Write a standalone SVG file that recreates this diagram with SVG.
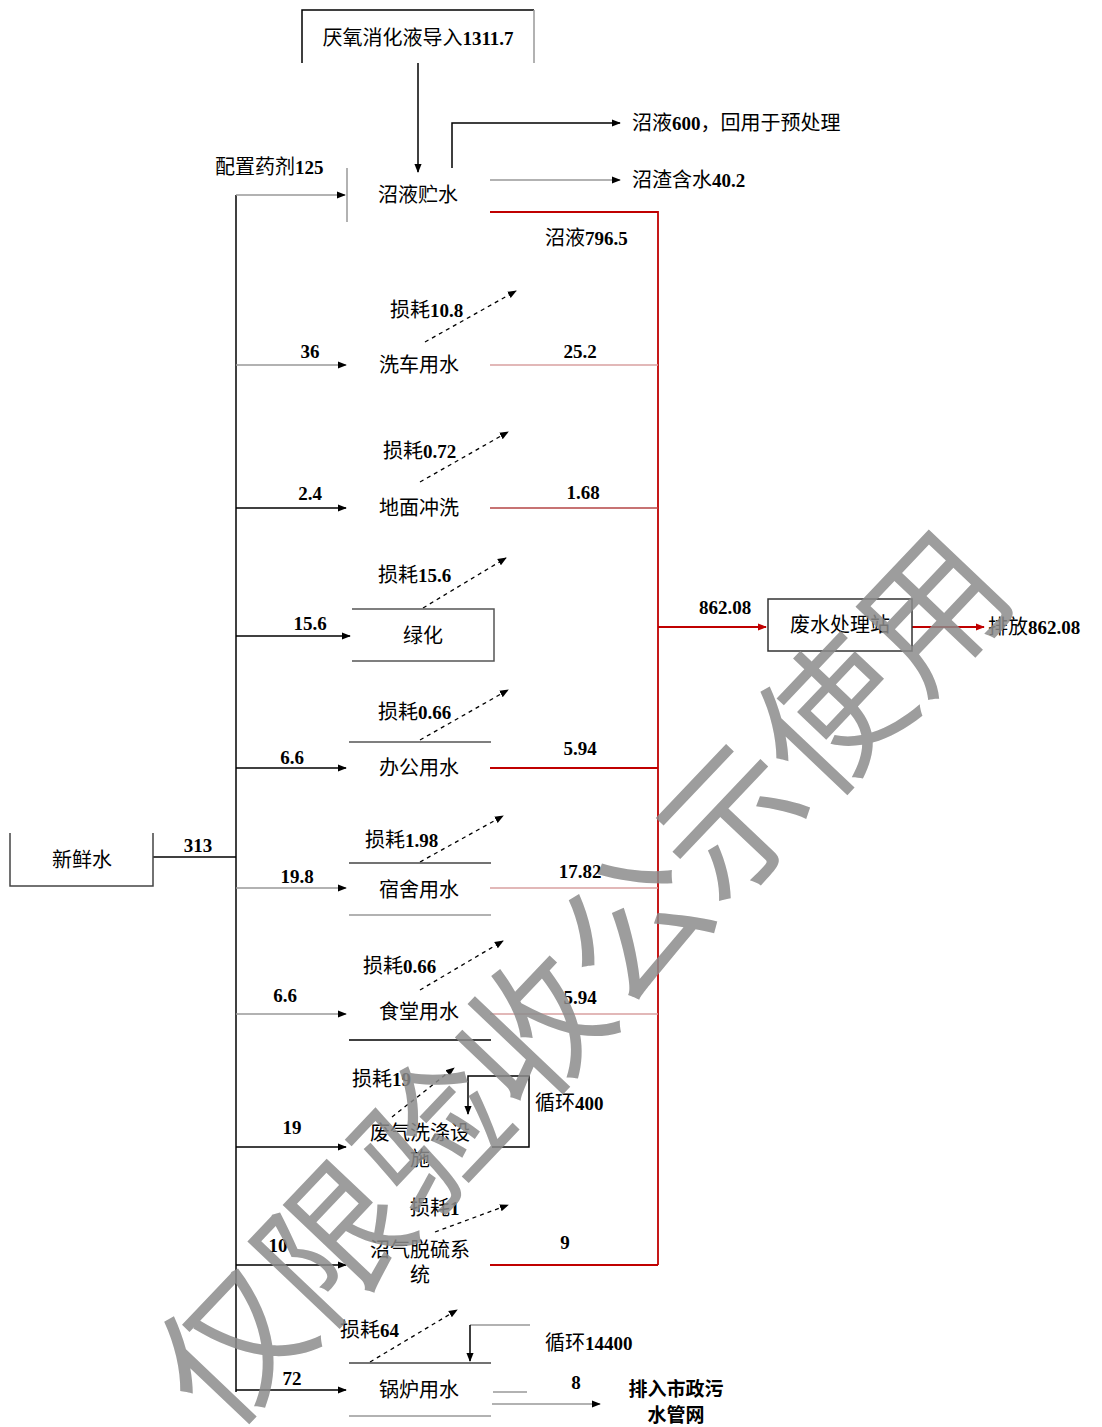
<svg xmlns="http://www.w3.org/2000/svg" width="1102" height="1427" viewBox="0 0 1102 1427">
<defs>
<marker id="ah" viewBox="0 0 10 10" refX="9" refY="5" markerWidth="9" markerHeight="9" markerUnits="userSpaceOnUse" orient="auto"><path d="M0,1 L10,5 L0,9 z" fill="#000"/></marker>
<marker id="ahr" viewBox="0 0 10 10" refX="9" refY="5" markerWidth="9" markerHeight="9" markerUnits="userSpaceOnUse" orient="auto"><path d="M0,1 L10,5 L0,9 z" fill="#c00000"/></marker>
<style>
text{font-family:"Liberation Serif","Noto Sans CJK SC",serif;font-size:20px;fill:#000;dominant-baseline:central}
.n{font-weight:bold;font-size:19px}
.m{text-anchor:middle}
.k{stroke:#000;stroke-width:1.5;fill:none}
.g{stroke:#999;stroke-width:1.5;fill:none}
.r{stroke:#c00000;stroke-width:1.8;fill:none}
.lr{stroke:#d9a0a0;stroke-width:1.5;fill:none}
.mr{stroke:#b54545;stroke-width:1.5;fill:none}
.d{stroke:#000;stroke-width:1.3;stroke-dasharray:4,4;fill:none}
.wm{font-family:"Noto Sans CJK SC",sans-serif;font-size:145px;fill:#8c8c8c;opacity:0.85;text-anchor:middle;dominant-baseline:central}
.bt{font-family:"Noto Sans CJK SC",sans-serif;font-weight:bold;font-size:19px}
</style>
</defs>

<g id="connectors">
<path class="k" d="M236,195 V1392"/>
<path class="k" d="M153,857 H236"/>
<path class="k" d="M418,63 V172" marker-end="url(#ah)"/>
<path class="k" d="M452,168 V123 H620" marker-end="url(#ah)"/>
<path class="g" d="M490,180 H620" marker-end="url(#ah)"/>
<path class="g" d="M236,195 H345" marker-end="url(#ah)"/>
<path class="g" d="M347,168 V222"/>
<path class="r" d="M490,212 H658 V1265"/>
<path class="r" d="M658,627 H766" marker-end="url(#ahr)"/>
<path class="r" d="M912,627 H984" marker-end="url(#ahr)"/>
<path class="g" d="M236,365 H346" marker-end="url(#ah)"/>
<path class="k" d="M236,508 H346" marker-end="url(#ah)"/>
<path class="k" d="M236,636 H350" marker-end="url(#ah)"/>
<path class="k" d="M236,768 H346" marker-end="url(#ah)"/>
<path class="g" d="M236,888 H346" marker-end="url(#ah)"/>
<path class="g" d="M236,1014 H346" marker-end="url(#ah)"/>
<path class="k" d="M236,1147 H346" marker-end="url(#ah)"/>
<path class="k" d="M236,1265 H346" marker-end="url(#ah)"/>
<path class="k" d="M236,1390 H346" marker-end="url(#ah)"/>
<path class="lr" d="M490,365 H658"/>
<path class="mr" d="M490,508 H658"/>
<path class="r" d="M490,768 H658"/>
<path class="lr" d="M490,888 H658"/>
<path class="lr" d="M490,1014 H658"/>
<path class="r" d="M490,1265 H658"/>
<path class="d" d="M425,342 L516,291" marker-end="url(#ah)"/>
<path class="d" d="M420,482 L508,432" marker-end="url(#ah)"/>
<path class="d" d="M423,608 L506,558" marker-end="url(#ah)"/>
<path class="d" d="M420,740 L508,690" marker-end="url(#ah)"/>
<path class="d" d="M420,862 L503,816" marker-end="url(#ah)"/>
<path class="d" d="M420,990 L503,941" marker-end="url(#ah)"/>
<path class="d" d="M392,1117 L454,1068" marker-end="url(#ah)"/>
<path class="d" d="M435,1232 L508,1205" marker-end="url(#ah)"/>
<path class="d" d="M370,1362 L457,1310" marker-end="url(#ah)"/>
<path class="k" d="M492,1147 H529 V1076 H468 V1114" marker-end="url(#ah)"/>
<path class="g" d="M530,1325 H470"/>
<path class="k" d="M470,1325 V1361" marker-end="url(#ah)"/>
<path class="g" d="M493,1392 H527"/>
<path class="g" d="M492,1404 H600" marker-end="url(#ah)"/>
</g>

<g id="node-input">
<path class="k" d="M302,63 V10 H534"/>
<path class="g" d="M534,10 V63"/>
<text x="418" y="38" class="m">厌氧消化液导入<tspan class="n">1311.7</tspan></text>
</g>
<g id="node-store"><text x="418" y="195" class="m">沼液贮水</text></g>
<g id="label-top">
<text x="632" y="123">沼液<tspan class="n">600</tspan>，回用于预处理</text>
<text x="632" y="180">沼渣含水<tspan class="n">40.2</tspan></text>
<text x="215" y="167">配置药剂<tspan class="n">125</tspan></text>
<text x="545" y="238">沼液<tspan class="n">796.5</tspan></text>
</g>

<g id="node-car">
<text x="419" y="365" class="m">洗车用水</text>
<text x="390" y="310">损耗<tspan class="n">10.8</tspan></text>
<text x="310" y="351" class="n m">36</text>
<text x="580" y="351" class="n m">25.2</text>
</g>
<g id="node-floor">
<text x="419" y="508" class="m">地面冲洗</text>
<text x="383" y="451">损耗<tspan class="n">0.72</tspan></text>
<text x="310" y="493" class="n m">2.4</text>
<text x="583" y="492" class="n m">1.68</text>
</g>
<g id="node-green">
<path class="k" d="M352,609 H494 V661 H352" style="stroke:#555"/>
<text x="423" y="636" class="m">绿化</text>
<text x="378" y="575">损耗<tspan class="n">15.6</tspan></text>
<text x="310" y="623" class="n m">15.6</text>
</g>
<g id="node-wwtp">
<rect x="768" y="599" width="144" height="52" class="k" style="stroke:#333"/>
<text x="840" y="625" class="m">废水处理站</text>
<text x="725" y="607" class="n m">862.08</text>
<text x="988" y="627">排放<tspan class="n">862.08</tspan></text>
</g>
<g id="node-office">
<path class="k" d="M349,742 H491" style="stroke:#555"/>
<text x="419" y="768" class="m">办公用水</text>
<text x="378" y="712">损耗<tspan class="n">0.66</tspan></text>
<text x="292" y="757" class="n m">6.6</text>
<text x="580" y="748" class="n m">5.94</text>
</g>
<g id="node-fresh">
<path class="k" d="M10,833 V886 H153 V833" style="stroke:#444"/>
<text x="82" y="860" class="m">新鲜水</text>
<text x="198" y="845" class="n m">313</text>
</g>
<g id="node-dorm">
<path class="k" d="M349,863 H491" style="stroke:#444"/>
<path class="g" d="M349,915 H491"/>
<text x="419" y="890" class="m">宿舍用水</text>
<text x="365" y="840">损耗<tspan class="n">1.98</tspan></text>
<text x="297" y="876" class="n m">19.8</text>
<text x="580" y="871" class="n m">17.82</text>
</g>
<g id="node-canteen">
<path class="k" d="M349,1040 H491"/>
<text x="419" y="1012" class="m">食堂用水</text>
<text x="363" y="966">损耗<tspan class="n">0.66</tspan></text>
<text x="285" y="995" class="n m">6.6</text>
<text x="580" y="997" class="n m">5.94</text>
</g>
<g id="node-gas">
<text x="420" y="1133" class="m">废气洗涤设</text>
<text x="420" y="1159" class="m">施</text>
<text x="352" y="1079">损耗<tspan class="n">19</tspan></text>
<text x="535" y="1103">循环<tspan class="n">400</tspan></text>
<text x="292" y="1127" class="n m">19</text>
</g>
<g id="node-desulf">
<text x="420" y="1250" class="m">沼气脱硫系</text>
<text x="420" y="1275" class="m">统</text>
<text x="410" y="1208">损耗<tspan class="n">1</tspan></text>
<text x="278" y="1245" class="n m">10</text>
<text x="565" y="1242" class="n m">9</text>
</g>
<g id="node-boiler">
<path class="k" d="M349,1363 H491" style="stroke:#444"/>
<path class="g" d="M349,1416 H491"/>
<text x="419" y="1390" class="m">锅炉用水</text>
<text x="340" y="1330">损耗<tspan class="n">64</tspan></text>
<text x="545" y="1343">循环<tspan class="n">14400</tspan></text>
<text x="292" y="1378" class="n m">72</text>
<text x="576" y="1382" class="n m">8</text>
<text x="676" y="1387" class="m bt">排入市政污</text>
<text x="676" y="1413" class="m bt">水管网</text>
</g>

<text class="wm" transform="translate(576,972) rotate(-46.5)">仅限验收公示使用</text>
</svg>
